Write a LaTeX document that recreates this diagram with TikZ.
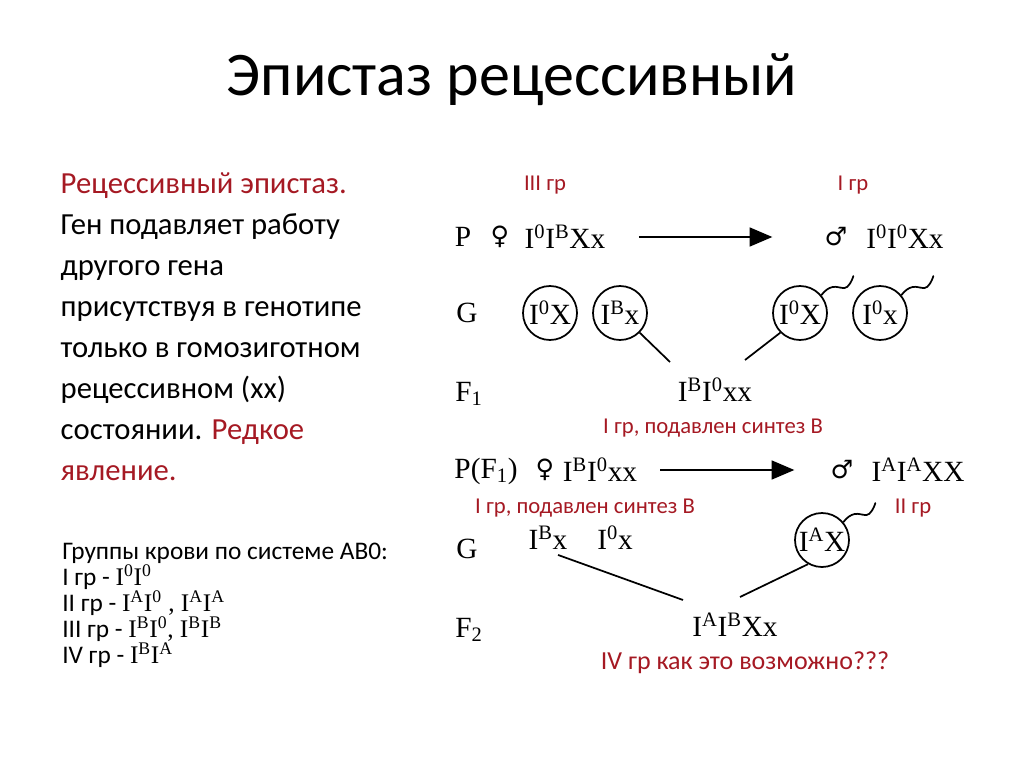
\documentclass[tikz,border=0pt]{standalone}
\usepackage{fontspec}
\setmainfont{Carlito}
\newfontfamily\genfont{Liberation Serif}
\newfontfamily\symfont{DejaVu Sans}
\usetikzlibrary{arrows.meta}
\definecolor{darkred}{RGB}{165,25,35}
\newcommand\up[1]{\textsuperscript{#1}}
\tikzset{
  redlabel/.style={text=darkred, font=\fontsize{17}{19}\selectfont},
  gen/.style={font=\genfont\fontsize{22}{24}\selectfont, inner sep=1pt},
  sex/.style={font=\symfont\fontsize{19}{20}\selectfont, inner sep=1pt},
  gamete/.style={gen, draw, circle, line width=1.3pt, minimum size=40.5pt, inner sep=0pt},
  cross/.style={line width=1.8pt, -{Triangle[length=17pt,width=14pt]}},
  link/.style={line width=1.3pt},
  tail/.style={link, line cap=round},
  abo/.style={anchor=base west, font=\fontsize{19}{20}\selectfont, inner sep=0pt},
}
\begin{document}
\begin{tikzpicture}[x=0.75pt, y=-0.75pt]
  \useasboundingbox (0,0) rectangle (1024,767);

  % Title
  \node (title) at (512,80) {\fontsize{46.5}{50}\selectfont Эпистаз рецессивный};

  % Text on the left
  \node[anchor=north west, align=left, font=\fontsize{23}{30.75}\selectfont] (desc) at (56,168)
    {\textcolor{darkred}{Рецессивный эпистаз.}\\
     Ген подавляет работу\\
     другого гена\\
     присутствуя в генотипе\\
     только в гомозиготном\\
     рецессивном (хх)\\
     состоянии. \textcolor{darkred}{Редкое}\\
     \textcolor{darkred}{явление.}};

  % Blood groups
  \node[abo] (abo0) at (62,559) {Группы крови по системе АВ0:};
  \node[abo] (abo1) at (62,585) {I гр - {\genfont I\up{0}I\up{0}}};
  \node[abo] (abo2) at (62,611) {II гр - {\genfont I\up{A}I\up{0} , I\up{A}I\up{A}}};
  \node[abo] (abo3) at (62,637) {III гр - {\genfont I\up{B}I\up{0}, I\up{B}I\up{B}}};
  \node[abo] (abo4) at (62,663) {IV гр - {\genfont I\up{B}I\up{A}}};

  % Row labels
  \node[gen] (rP) at (463,237) {P};
  \node[gen] (rG) at (467,313) {G};
  \node[gen] (rF1) at (469,394) {F\textsubscript{1}};
  \node[gen] (rPF) at (486,471) {P(F\textsubscript{1})};
  \node[gen] (rG2) at (467,549) {G};
  \node[gen] (rF2) at (469,630) {F\textsubscript{2}};

  % First cross
  \node[redlabel] (grIII) at (545,185) {III гр};
  \node[redlabel] (grI) at (853,185) {I гр};
  \node[sex] (fem1) at (500,237) {♀};
  \node[gen] (par1) at (565,237) {I\up{0}I\up{B}Xx};
  \node[sex] (male1) at (836,237) {♂};
  \node[gen] (par2) at (905,237) {I\up{0}I\up{0}Xx};
  \draw[cross, shorten <=24pt, shorten >=38pt] (par1) -- (male1);

  % Gametes
  \node[gamete] (g1) at (550,313) {I\up{0}X};
  \node[gamete] (g2) at (620,313) {I\up{B}x};
  \node[gamete] (g3) at (800,313) {I\up{0}X};
  \node[gamete] (g4) at (880,313) {I\up{0}x};
  \draw[tail] (g3.40) .. controls +(4,-5) and +(-4,1) .. ++(11,-8) .. controls +(4,-1) and +(-4,0) .. ++(12,1) .. controls +(4,0) and +(-1,4) .. ++(9,-12);
  \draw[tail] (g4.40) .. controls +(4,-5) and +(-4,1) .. ++(11,-8) .. controls +(4,-1) and +(-4,0) .. ++(12,1) .. controls +(4,0) and +(-1,4) .. ++(9,-12);

  % F1
  \node[gen] (f1) at (715,390) {I\up{B}I\up{0}xx};
  \node[redlabel] (f1lab) at (713,428) {I гр, подавлен синтез В};
  \coordinate (f1a) at (670,362);
  \coordinate (f1b) at (745,360);
  \draw[link] (g2.-45) -- (f1a);
  \draw[link] (g3.225) -- (f1b);

  % Second cross
  \node[sex] (fem2) at (545,470) {♀};
  \node[gen] (par3) at (600,470) {I\up{B}I\up{0}xx};
  \node[sex] (male2) at (842,470) {♂};
  \node[gen] (par4) at (918,470) {I\up{A}I\up{A}XX};
  \draw[cross, shorten <=16pt, shorten >=26pt] (par3) -- (male2);
  \node[redlabel] (p3lab) at (585,508) {I гр, подавлен синтез В};
  \node[redlabel] (grII) at (913,508) {II гр};

  % Gametes of F1 cross
  \node[gen] (ga) at (548,538) {I\up{B}x};
  \node[gen] (gb) at (615,538) {I\up{0}x};
  \node[gamete] (g5) at (822,540) {I\up{A}X};
  \draw[tail] (g5.40) .. controls +(4,-5) and +(-4,1) .. ++(11,-8) .. controls +(4,-1) and +(-4,0) .. ++(12,1) .. controls +(4,0) and +(-1,4) .. ++(9,-12);

  % F2
  \node[gen] (f2) at (735,625) {I\up{A}I\up{B}Xx};
  \node[redlabel, font=\fontsize{19.5}{21}\selectfont] (f2lab) at (745,663) {IV гр как это возможно???};
  \coordinate (f2a) at (683,600);
  \coordinate (f2b) at (740,597);
  \draw[link, shorten <=8pt] (ga.south) -- (f2a);
  \draw[link] (g5.240) -- (f2b);
\end{tikzpicture}
\end{document}
